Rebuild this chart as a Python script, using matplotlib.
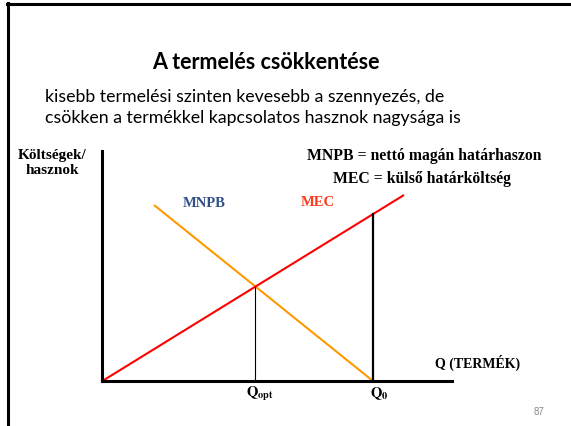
import matplotlib
matplotlib.use('Agg')
import matplotlib.pyplot as plt
from matplotlib.lines import Line2D

# adatok (tengely-egységekben, kb.)
mec_q = [2, 302]
mec_v = [1, 186]
mnpb_q = [52, 271]
mnpb_v = [176, 0]
q_opt = 153
q_opt_v = 94
q0 = 271
q0_v = 167

title = 'A termelés csökkentése'
subtitle = ['kisebb termelési szinten kevesebb a szennyezés, de',
            'csökken a termékkel kapcsolatos hasznok nagysága is']
legend_lines = ['MNPB = nettó magán határhaszon', 'MEC = külső határköltség']

W, H = 571, 427
fig = plt.figure(figsize=(W / 100, H / 100), dpi=100)
plt.rcParams['mathtext.fontset'] = 'stix'

def fx(px):
    return px / W

def fy(py):
    return 1 - py / H

# dia kerete (felső és bal vonal)
fig.add_artist(Line2D([fx(7), 1], [fy(4.5), fy(4.5)], color='black', lw=2.2))
fig.add_artist(Line2D([fx(8), fx(8)], [fy(4), 0], color='black', lw=2.2))

sans = 'Lato'
serif = 'Liberation Serif'

fig.text(fx(266), fy(63), title, ha='center', va='center', fontsize=15.5,
         fontweight='bold', family=sans)
fig.text(fx(45), fy(97), subtitle[0], ha='left', va='center', fontsize=12.8, family=sans)
fig.text(fx(45), fy(118), subtitle[1], ha='left', va='center', fontsize=12.8, family=sans)

ax = fig.add_axes([fx(102), fy(382), 350 / W, 230 / H])
ax.set_xlim(0, 350)
ax.set_ylim(0, 230)
for s in ['top', 'right']:
    ax.spines[s].set_visible(False)
for s in ['left', 'bottom']:
    ax.spines[s].set_linewidth(2.2)
ax.set_xticks([])
ax.set_yticks([])
ax.patch.set_alpha(0)

ax.plot(mnpb_q, mnpb_v, color='#FF9900', lw=1.5, solid_capstyle='butt')
ax.plot(mec_q, mec_v, color='#FF0000', lw=1.5, solid_capstyle='butt')
ax.plot([q_opt, q_opt], [0, q_opt_v], color='black', lw=0.8)
ax.plot([q0, q0], [0, q0_v], color='black', lw=1.6)

fig.text(fx(52), fy(156), 'Költségek/', ha='center', va='center', fontsize=11,
         fontweight='bold', family=serif)
fig.text(fx(52), fy(171), 'hasznok', ha='center', va='center', fontsize=11,
         fontweight='bold', family=serif)

fig.text(fx(204), fy(204), 'MNPB', ha='center', va='center', fontsize=10.5,
         fontweight='bold', family=serif, color='#2F4F8A')
fig.text(fx(318), fy(202), 'MEC', ha='center', va='center', fontsize=10.5,
         fontweight='bold', family=serif, color='#FF3B1A')
fig.text(fx(424), fy(156), legend_lines[0], ha='center', va='center', fontsize=11.3,
         fontweight='bold', family=serif)
fig.text(fx(422), fy(179), legend_lines[1], ha='center', va='center', fontsize=11.3,
         fontweight='bold', family=serif)

fig.text(fx(435), fy(363), 'Q (TERMÉK)', ha='left', va='center', fontsize=10,
         fontweight='bold', family=serif)
fig.text(fx(260), fy(394), r'$\mathbf{Q}_{\mathbf{opt}}$', ha='center', va='center',
         fontsize=10.5)
fig.text(fx(379), fy(394), r'$\mathbf{Q}_{\mathbf{0}}$', ha='center', va='center',
         fontsize=10.5)

fig.text(fx(539), fy(412), '87', ha='center', va='center', fontsize=7,
         color='#8C8C8C', family='Liberation Sans')

fig.savefig('out.png', dpi=100)
